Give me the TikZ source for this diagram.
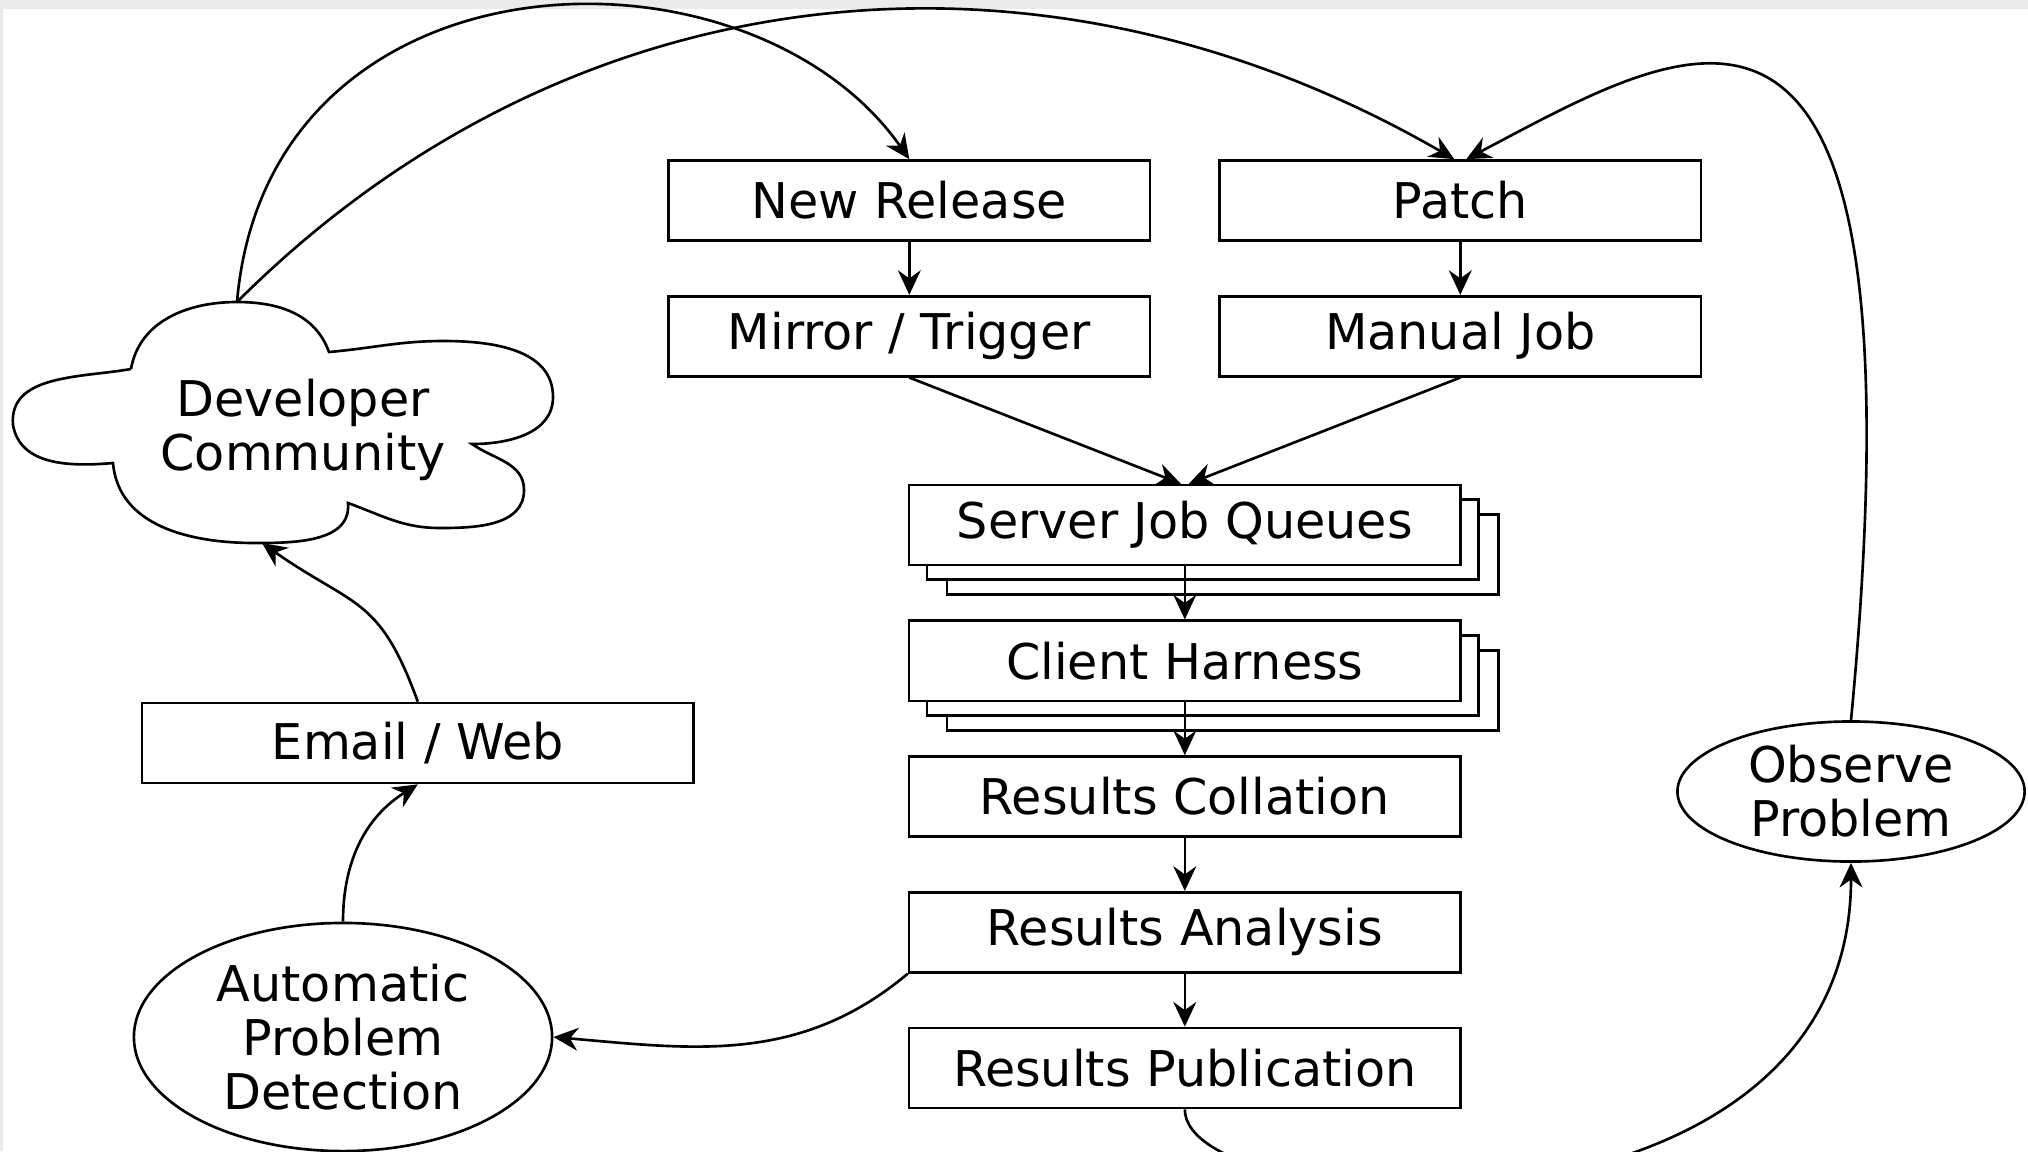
\documentclass[tikz,border=0pt]{standalone}
\usepackage{fontspec}
\setmainfont{DejaVu Sans}
\usetikzlibrary{positioning, arrows.meta}
\usetikzlibrary{shapes.geometric, shadows}
\definecolor{bandgray}{RGB}{235,235,235}

\begin{document}
\begin{tikzpicture}[x=0.01cm,y=0.01cm,>={Stealth[length=7pt,width=6.5pt,inset=2.3pt]},line width=0.75pt,
  every node/.style={font=\fontsize{14}{15.4}\selectfont,align=center},
  box/.style={shape=rectangle,draw,minimum width=4.81cm,minimum height=0.80cm,inner sep=0pt},
  widebox/.style={box,minimum width=5.51cm},
  stack/.style={widebox,fill=white,
    copy shadow={shadow xshift=0.38cm,shadow yshift=-0.295cm,draw=black,fill=white},
    copy shadow={shadow xshift=0.18cm,shadow yshift=-0.145cm,draw=black,fill=white}},
  blob/.style={shape=ellipse,draw,inner sep=-2pt},
  node distance=0.53cm]
    % frame
    \useasboundingbox (0,0) rectangle (2028,-1151);
    \clip (0,0) rectangle (2028,-1151);
    \fill[bandgray] (0,0) rectangle (2028,-1151);
    \fill[white] (2.5,-9) rectangle (2028,-1151);
    % create the nodes
        \node[box] (newrel) at (909.3,-200.5) {New Release};
        \node[box] (patch) [right=0.67cm of newrel] {Patch};
        \node[box] (mirror) [below=of newrel] {Mirror / Trigger};
        \node[box] (manual) [below=of patch] {Manual Job};
        \node[stack] (queues) at (1184.8,-525.1) {Server Job Queues};
        \node[stack] (client) [below=of queues] {Client Harness};
        \node[widebox] (collate) [below=of client] {Results Collation};
        \node[widebox] (analysis) [below=of collate] {Results Analysis};
        \node[widebox] (publish) [below=of analysis] {Results Publication};
        \node[widebox] (email) at (417.8,-743) {Email / Web};
        \node[blob,minimum width=4.18cm,minimum height=2.28cm] (detect) at (343,-1037) {Automatic\\Problem\\Detection};
        \node[blob,minimum width=3.47cm,minimum height=1.40cm] (observe) at (1851,-791.5) {Observe\\Problem};
    % the cloud
        \node (dev) at (303,-430) {Developer\\Community};
        \draw (131,-369) to[out=80,in=180] (237,-302) to[out=0,in=110] (329,-352)
          to[out=5,in=180] (444,-341) to[out=0,in=90] (553,-397) to[out=-90,in=0] (472,-444)
          to[out=-35,in=90] (524,-490) to[out=-90,in=0] (440,-528) to[out=180,in=-20] (348,-503)
          to[out=-85,in=0] (255,-543) to[out=180,in=-85] (113,-463)
          to[out=185,in=-80] (13,-425) to[out=95,in=190] (131,-369);
        \coordinate (devtop) at (237,-302);
        \coordinate (devbot) at (262,-543);
    % connect them
        \draw[->] (newrel) -- (mirror);
        \draw[->] (patch) -- (manual);
        \draw[->] (mirror.south) -- ([xshift=-0.04cm]queues.north);
        \draw[->] (manual.south) -- ([xshift=0.04cm]queues.north);
        \draw[->] (queues) -- (client);
        \draw[->] (client) -- (collate);
        \draw[->] (collate) -- (analysis);
        \draw[->] (analysis) -- (publish);
        \draw[->] (analysis.south west) to[out=220,in=-5] (detect.east);
        \draw[->] (detect.north) to[out=90,in=212] (email.south);
        \draw[->] (email.north) to[out=110,in=-35,looseness=1.3] (devbot);
        \draw[->] (devtop) .. controls +(31,359) and +(-161,229) .. (newrel.north);
        \draw[->] (devtop) .. controls +(332,332) and +(-416,240) .. ([xshift=-0.06cm]patch.north);
        \draw[->] (observe.north) .. controls +(79,830) and +(228,120) .. ([xshift=0.06cm]patch.north);
        \draw[->] (publish.south) .. controls +(0,-113) and +(0,-400) .. (observe.south);
\end{tikzpicture}
\end{document}
